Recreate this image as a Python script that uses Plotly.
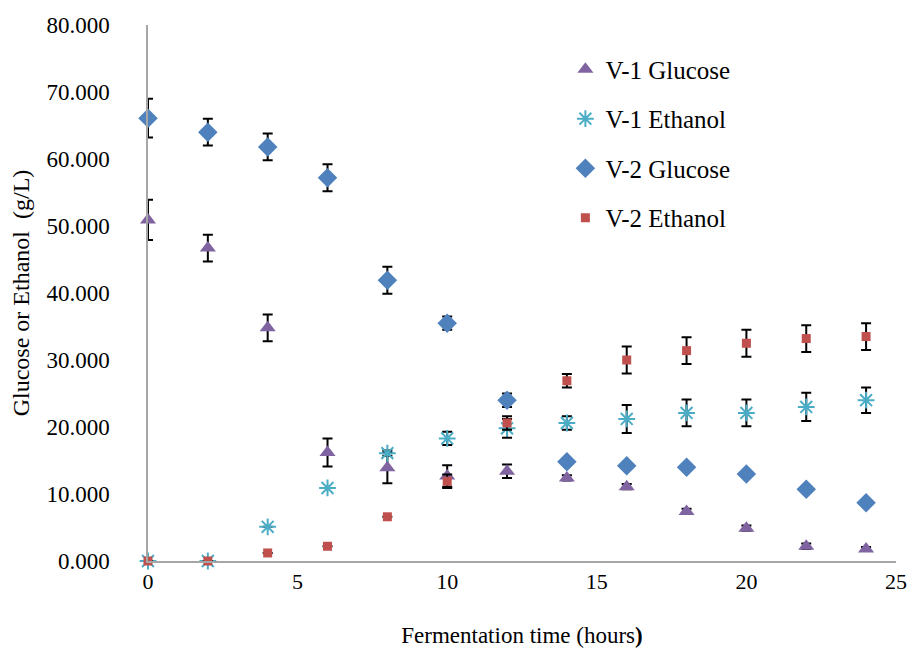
import plotly.graph_objects as go

hours = [0, 2, 4, 6, 8, 10, 12, 14, 16, 18, 20, 22, 24]

v1_glucose = [50.9, 46.7, 34.8, 16.2, 13.9, 12.7, 13.4, 12.4, 11.1, 7.4, 4.9, 2.2, 1.8]
v1_glucose_err = [3.0, 2.0, 2.0, 2.1, 2.3, 1.6, 1.0, 0.4, 0.4, 0.4, 0.4, 0.4, 0.3]

v1_ethanol = [0.0, 0.0, 5.1, 10.9, 16.1, 18.3, 19.8, 20.6, 21.2, 22.1, 22.1, 23.0, 24.0]
v1_ethanol_err = [0, 0, 0, 0, 0.4, 1.0, 1.4, 1.0, 2.1, 2.0, 2.0, 2.1, 1.9]

v2_glucose = [66.1, 64.0, 61.8, 57.2, 41.9, 35.5, 24.0, 14.8, 14.2, 14.0, 13.0, 10.7, 8.7]
v2_glucose_err = [2.9, 2.0, 2.0, 2.0, 2.0, 1.0, 1.0, 0.4, 0.3, 0.3, 0.3, 0.2, 0.2]

v2_ethanol = [0.0, 0.0, 1.2, 2.2, 6.6, 11.9, 20.6, 26.9, 30.0, 31.4, 32.5, 33.2, 33.5]
v2_ethanol_err = [0, 0, 0, 0, 0, 1.0, 1.0, 1.0, 2.0, 2.0, 2.0, 2.0, 2.0]

names = ["V-1 Glucose", "V-1 Ethanol", "V-2 Glucose", "V-2 Ethanol"]
ticks_x = [0, 5, 10, 15, 20, 25]

FONT = "Liberation Serif"

fig = go.Figure()

def err(arr):
    return dict(type="data", array=arr, visible=True, color="black", thickness=2, width=5)

fig.add_trace(go.Scatter(
    x=hours, y=v1_glucose, mode="markers", name=names[0], legendgroup="a",
    marker=dict(symbol="triangle-up", size=14, color="#8064A2"),
    error_y=err(v1_glucose_err), cliponaxis=False))
fig.add_trace(go.Scatter(
    x=hours, y=v1_ethanol, mode="markers", name=names[1], legendgroup="b",
    marker=dict(symbol="asterisk-open", size=14, color="#4BACC6",
                line=dict(color="#4BACC6", width=2)),
    error_y=err(v1_ethanol_err), cliponaxis=False))
fig.add_trace(go.Scatter(
    x=hours, y=v2_glucose, mode="markers", name=names[2], legendgroup="c",
    marker=dict(symbol="diamond", size=15, color="#4F81BD"),
    error_y=err(v2_glucose_err), cliponaxis=False))
fig.add_trace(go.Scatter(
    x=hours, y=v2_ethanol, mode="markers", name=names[3], legendgroup="d",
    marker=dict(symbol="square", size=9, color="#C0504D"),
    error_y=err(v2_ethanol_err), cliponaxis=False))

fig.update_layout(
    width=907, height=645,
    margin=dict(l=140, r=19, t=17, b=92, autoexpand=False),
    paper_bgcolor="white", plot_bgcolor="white",
    font=dict(family=FONT, color="black", size=23),
    legend=dict(x=0.558, y=0.96, xanchor="left", yanchor="top",
                font=dict(family=FONT, size=25, color="black"),
                tracegroupgap=14, bgcolor="rgba(0,0,0,0)"),
    xaxis=dict(range=[0, 25], tickvals=ticks_x, showgrid=False, zeroline=False,
               showline=True, linecolor="#a6a6a6", linewidth=1.5, ticks="",
               tickfont=dict(family=FONT, size=22), automargin=False,
               ticklabeloverflow="allow",
               title=dict(text="Fermentation time (hours<b>)</b>",
                          font=dict(family=FONT, size=23), standoff=34)),
    yaxis=dict(range=[0, 80], dtick=10, tickformat=".3f", showgrid=False, zeroline=False,
               showline=True, linecolor="#a6a6a6", linewidth=1.5, ticks="",
               ticklabelstandoff=32, automargin=False,
               tickfont=dict(family=FONT, size=23),
               title=dict(text="Glucose or Ethanol  (g/L)",
                          font=dict(family=FONT, size=24), standoff=10)),
)

fig.write_html("out.html")
